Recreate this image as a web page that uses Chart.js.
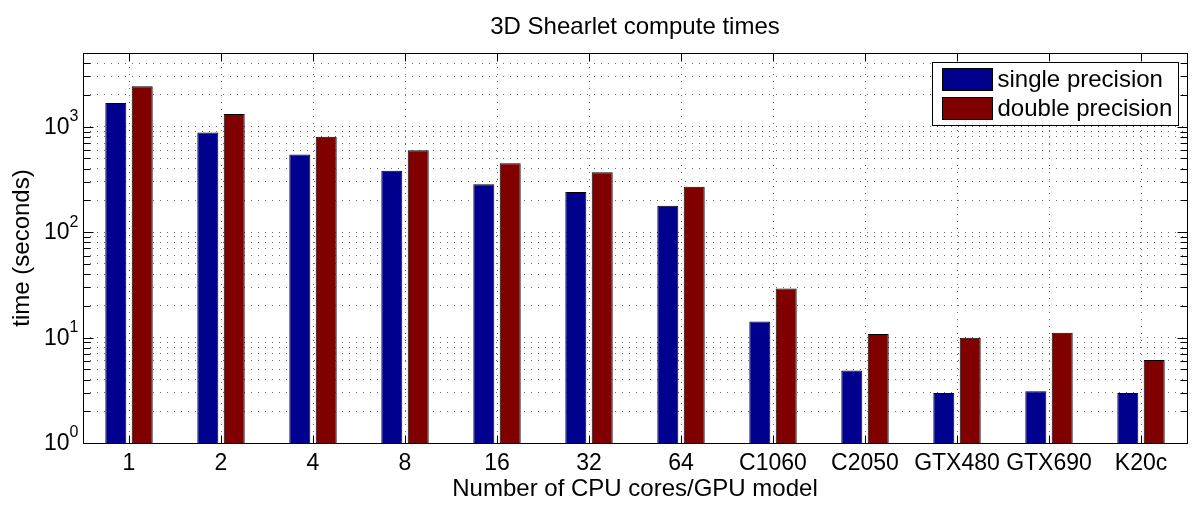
<!DOCTYPE html>
<html>
<head>
<meta charset="utf-8">
<script src="https://cdn.jsdelivr.net/npm/chart.js@4.4.1/dist/chart.umd.min.js"></script>
<style>
  html, body { margin: 0; padding: 0; background: #fff; }
  #wrap { width: 1200px; height: 505px; }
</style>
</head>
<body>
<div id="wrap"><canvas id="c" width="1200" height="505"></canvas></div>
<script>
// data (seconds, log axis)
const categories = ['1', '2', '4', '8', '16', '32', '64', 'C1060', 'C2050', 'GTX480', 'GTX690', 'K20c'];
const singlePrecision = [1680, 880, 545, 383, 284, 240, 178, 14.2, 4.86, 2.98, 3.09, 2.98];
const doublePrecision = [2420, 1320, 805, 597, 449, 369, 270, 29.2, 10.8, 9.94, 11.1, 6.14];
const seriesNames = ['single precision', 'double precision'];
const seriesColors = ['#00008f', '#800000'];
const yMajorTicks = [1, 10, 100, 1000];
const yExponents = ['0', '1', '2', '3'];
const yMin = 1, yMax = 5000;
const chartTitle = '3D Shearlet compute times';

const FONT = '"Liberation Sans", Arial, Helvetica, sans-serif';

// all log-decade gridline positions (1..9 per decade)
const yGrid = [];
yMajorTicks.forEach(m => {
    for (let k = 1; k <= 9; k++) {
        if (m * k <= yMax) yGrid.push(m * k);
    }
});

// matlab style box, inward ticks, 10^n labels, title and legend
const matlabAxes = {
    id: 'matlabAxes',
    afterDraw(chart) {
        const ctx = chart.ctx;
        const a = chart.chartArea;
        const xs = chart.scales.x, ys = chart.scales.y;
        const L = Math.round(a.left) + 0.5, R = Math.round(a.right) + 0.5;
        const T = Math.round(a.top) + 0.5, B = Math.round(a.bottom) + 0.5;
        ctx.save();
        ctx.strokeStyle = '#000';
        ctx.lineWidth = 1;

        // ticks
        ctx.beginPath();
        categories.forEach((c, i) => {
            const x = Math.round(xs.getPixelForValue(i)) + 0.5;
            ctx.moveTo(x, B); ctx.lineTo(x, B - 8);
            ctx.moveTo(x, T); ctx.lineTo(x, T + 8);
        });
        yGrid.forEach(v => {
            const y = Math.round(ys.getPixelForValue(v)) + 0.5;
            const len = yMajorTicks.includes(v) ? 10 : 7;
            ctx.moveTo(L, y); ctx.lineTo(L + len, y);
            ctx.moveTo(R, y); ctx.lineTo(R - len, y);
        });
        ctx.stroke();
        ctx.strokeRect(L, T, R - L, B - T);

        // title, centred over the plot box
        ctx.fillStyle = '#000';
        ctx.textBaseline = 'middle';
        ctx.textAlign = 'center';
        ctx.font = '24px ' + FONT;
        ctx.fillText(chartTitle, (a.left + a.right) / 2, 27);

        // y labels 10^n
        yMajorTicks.forEach((v, i) => {
            const y = ys.getPixelForValue(v);
            ctx.font = '16px ' + FONT;
            ctx.textAlign = 'right';
            const expW = ctx.measureText(yExponents[i]).width;
            ctx.fillText(yExponents[i], L - 5, y - 10);
            ctx.font = '23px ' + FONT;
            ctx.fillText('10', L - 5 - expW, y + 1);
        });

        // legend
        const lw = 246, lh = 63;
        const lx = Math.round(a.right - 9 - lw) + 0.5, ly = Math.round(a.top + 9) + 0.5;
        ctx.fillStyle = '#fff';
        ctx.fillRect(lx, ly, lw, lh);
        ctx.strokeRect(lx, ly, lw, lh);
        ctx.font = '24px ' + FONT;
        ctx.textAlign = 'left';
        seriesNames.forEach((name, i) => {
            const sy = ly + 6 + i * 29;
            ctx.fillStyle = seriesColors[i];
            ctx.fillRect(lx + 10, sy, 50, 22);
            ctx.strokeRect(lx + 10, sy, 50, 22);
            ctx.fillStyle = '#000';
            ctx.fillText(name, lx + 65, sy + 12);
        });
        ctx.restore();
    }
};

new Chart(document.getElementById('c'), {
    type: 'bar',
    data: {
        labels: categories,
        datasets: [
            { label: seriesNames[0], data: singlePrecision, backgroundColor: seriesColors[0], borderColor: '#000', borderWidth: 1 },
            { label: seriesNames[1], data: doublePrecision, backgroundColor: seriesColors[1], borderColor: '#000', borderWidth: 1 }
        ]
    },
    options: {
        responsive: false,
        animation: false,
        devicePixelRatio: 1,
        categoryPercentage: 0.574,
        barPercentage: 0.795,
        layout: { padding: { left: 0, right: 13, top: 53, bottom: 0 } },
        plugins: {
            legend: { display: false },
            tooltip: { enabled: false },
            title: { display: false }
        },
        scales: {
            x: {
                grid: { offset: false, drawTicks: false, color: '#6a6a6a', lineWidth: 1 },
                border: { display: false, dash: [1, 6] },
                ticks: { color: '#000', font: { family: FONT, size: 23 }, padding: 7, maxRotation: 0, autoSkip: false },
                title: {
                    display: true,
                    text: 'Number of CPU cores/GPU model',
                    color: '#000',
                    font: { family: FONT, size: 24 },
                    padding: { top: 0, bottom: 1 }
                },
                afterFit(scale) { scale.height = 62; }
            },
            y: {
                type: 'logarithmic',
                min: yMin,
                max: yMax,
                grid: { drawTicks: false, color: '#6a6a6a', lineWidth: 1 },
                border: { display: false, dash: [1, 6] },
                ticks: { display: false },
                afterBuildTicks(scale) { scale.ticks = yGrid.map(v => ({ value: v })); },
                title: {
                    display: true,
                    text: 'time (seconds)',
                    color: '#000',
                    font: { family: FONT, size: 24 },
                    padding: { top: 8, bottom: 0 }
                },
                afterFit(scale) { scale.width = 83; }
            }
        }
    },
    plugins: [matlabAxes]
});
</script>
</body>
</html>
